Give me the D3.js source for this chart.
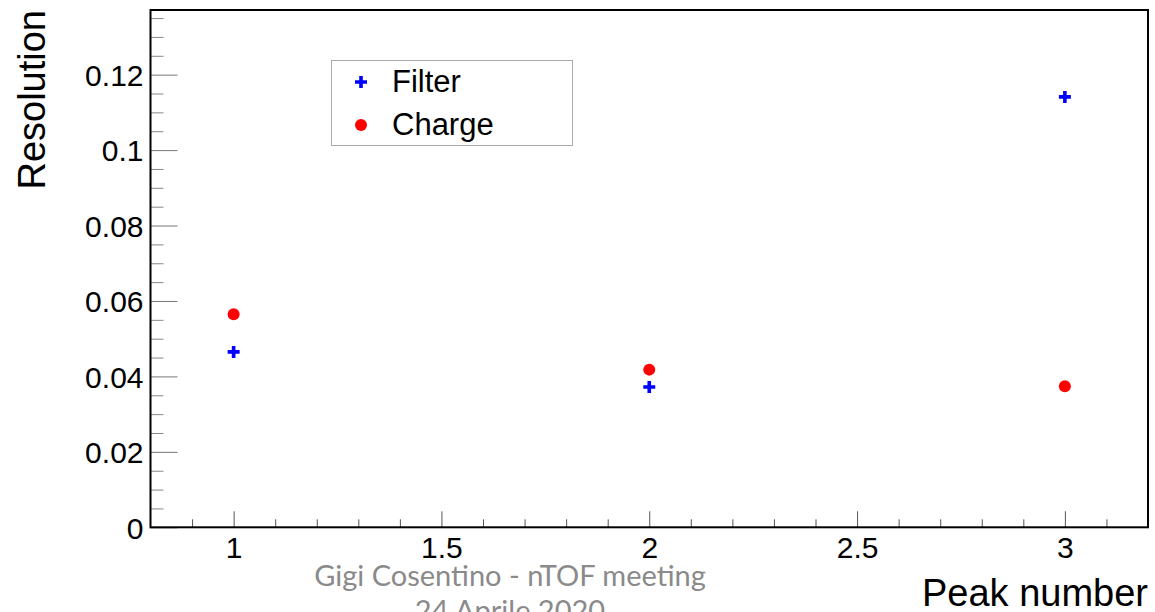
<!DOCTYPE html>
<html>
<head>
<meta charset="utf-8">
<script src="https://cdn.jsdelivr.net/npm/d3@7"></script>
<style>
  html, body { margin: 0; padding: 0; background: #fff; }
  svg { display: block; }
</style>
</head>
<body>
<svg id="chart" width="1155" height="612"></svg>
<script>
// Energy resolution per peak, two reconstruction methods
const peaks = [1, 2, 3];
const filterRes = [0.0465, 0.0372, 0.1141];
const chargeRes = [0.0565, 0.0418, 0.0374];
const seriesNames = ["Filter", "Charge"];
const xMajorTicks = [1, 1.5, 2, 2.5, 3];
const yMajorTicks = [0, 0.02, 0.04, 0.06, 0.08, 0.1, 0.12];
const footerLines = ["Gigi Cosentino - nTOF meeting", "24 Aprile 2020"];

const svg = d3.select("#chart");
const frame = { left: 150.5, top: 10, right: 1148, bottom: 527.3 };
const font = "'Liberation Sans', Arial, Helvetica, sans-serif";

const x = d3.scaleLinear().domain([0.8, 3.2]).range([frame.left, frame.right]);
const y = d3.scaleLinear().domain([0, 0.13714]).range([frame.bottom, frame.top]);

// Minor ticks every 0.1 on x and every 0.005 on y
const xMinor = d3.range(9, 32).map(v => v / 10).filter(v => Math.abs(v * 2 - Math.round(v * 2)) > 1e-6);
const yMinor = d3.range(1, 28).map(v => v * 0.005).filter(v => Math.abs(v / 0.02 - Math.round(v / 0.02)) > 1e-6);

const fmtY = v => (v === 0 ? "0" : d3.format("~g")(v));

// X axis
const xAxis = d3.axisBottom(x).tickValues(xMajorTicks).tickSize(-16).tickPadding(0).tickFormat(d3.format("~g"));
const gx = svg.append("g").attr("transform", `translate(0,${frame.bottom})`).call(xAxis);
gx.select(".domain").remove();
gx.selectAll(".tick line").attr("stroke", "#555").attr("stroke-width", 1);
gx.selectAll(".tick text")
  .attr("font-family", font).attr("font-size", 30).attr("fill", "#000")
  .attr("y", 31).attr("dy", 0);

const xMinorAxis = d3.axisBottom(x).tickValues(xMinor).tickSize(-8).tickFormat("");
const gxm = svg.append("g").attr("transform", `translate(0,${frame.bottom})`).call(xMinorAxis);
gxm.select(".domain").remove();
gxm.selectAll(".tick line").attr("stroke", "#555").attr("stroke-width", 1);

// Y axis
const yAxis = d3.axisLeft(y).tickValues(yMajorTicks).tickSize(-27).tickPadding(0).tickFormat(fmtY);
const gy = svg.append("g").attr("transform", `translate(${frame.left},0)`).call(yAxis);
gy.select(".domain").remove();
gy.selectAll(".tick line").attr("stroke", "#777").attr("stroke-width", 1);
gy.selectAll(".tick text")
  .attr("font-family", font).attr("font-size", 30).attr("fill", "#000")
  .attr("x", -7).attr("dy", "0.36em");

const yMinorAxis = d3.axisLeft(y).tickValues(yMinor).tickSize(-13).tickFormat("");
const gym = svg.append("g").attr("transform", `translate(${frame.left},0)`).call(yMinorAxis);
gym.select(".domain").remove();
gym.selectAll(".tick line").attr("stroke", "#888").attr("stroke-width", 1);

// Frame
svg.append("rect")
  .attr("x", frame.left).attr("y", frame.top)
  .attr("width", frame.right - frame.left).attr("height", frame.bottom - frame.top)
  .attr("fill", "none").attr("stroke", "#000").attr("stroke-width", 2);

// Markers
const plusPath = (cx, cy, s, t) => {
  const h = s / 2, w = t / 2;
  return `M${cx - w},${cy - h}H${cx + w}V${cy - w}H${cx + h}V${cy + w}H${cx + w}V${cy + h}H${cx - w}V${cy + w}H${cx - h}V${cy - w}H${cx - w}Z`;
};

svg.append("g").selectAll("path")
  .data(peaks.map((p, i) => ({ p, v: filterRes[i] })))
  .join("path")
  .attr("d", d => plusPath(x(d.p), y(d.v), 12, 3.6))
  .attr("fill", "#0000ff");

svg.append("g").selectAll("circle")
  .data(peaks.map((p, i) => ({ p, v: chargeRes[i] })))
  .join("circle")
  .attr("cx", d => x(d.p)).attr("cy", d => y(d.v)).attr("r", 6)
  .attr("fill", "#ff0000");

// Legend
const lg = svg.append("g");
lg.append("rect").attr("x", 331.5).attr("y", 60.5).attr("width", 241).attr("height", 85)
  .attr("fill", "#fff").attr("stroke", "#aaa").attr("stroke-width", 1);
lg.append("path").attr("d", plusPath(361, 82, 12, 3.6)).attr("fill", "#0000ff");
lg.append("circle").attr("cx", 361).attr("cy", 125).attr("r", 6).attr("fill", "#ff0000");
lg.selectAll("text").data(seriesNames).join("text")
  .attr("x", 392).attr("y", (d, i) => [92, 135][i])
  .attr("font-family", font).attr("font-size", 31).attr("fill", "#000")
  .text(d => d);

// Axis titles
svg.append("text")
  .attr("x", frame.right).attr("y", 606)
  .attr("text-anchor", "end")
  .attr("font-family", font).attr("font-size", 38).attr("fill", "#000")
  .text("Peak number");

svg.append("text")
  .attr("transform", "translate(45,10) rotate(-90)")
  .attr("text-anchor", "end")
  .attr("font-family", font).attr("font-size", 38).attr("fill", "#000")
  .text("Resolution");

// Footer
svg.append("g").selectAll("text").data(footerLines).join("text")
  .attr("x", 510).attr("y", (d, i) => 586 + i * 35)
  .attr("text-anchor", "middle")
  .attr("font-family", "Lato, 'Open Sans', sans-serif").attr("font-size", 29)
  .attr("fill", "#8a8a8a")
  .text(d => d);
</script>
</body>
</html>
